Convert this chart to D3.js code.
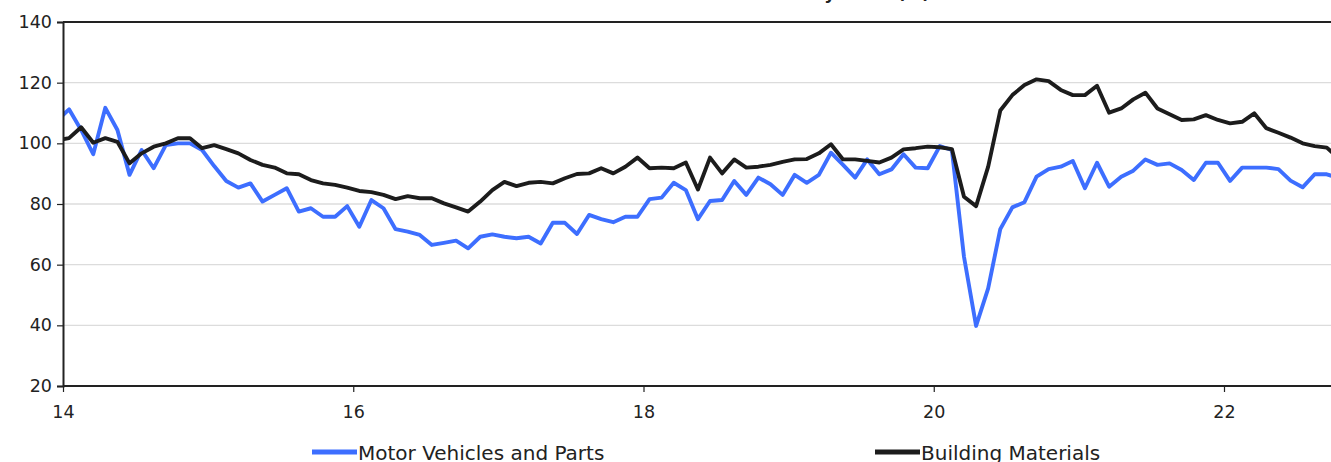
<!DOCTYPE html>
<html>
<head>
<meta charset="utf-8">
<script src="https://cdn.jsdelivr.net/npm/d3@7"></script>
<style>
  html, body { margin: 0; padding: 0; background: #fff; overflow: hidden; }
  svg text { font-family: "DejaVu Sans", sans-serif; fill: #222; }
</style>
</head>
<body>
<div id="chart"></div>
<script>
// monthly series, first value is Dec 2013 (points sit mid-month)
const startYear = 13, startMonth = 12;
const motorVehicles = [107.5,
  111.2,104.4,96.4,111.7,104.4,89.6,97.8,91.8,99.4,100,100,97.8,
  92.5,87.6,85.4,86.8,80.8,83,85.2,77.5,78.6,75.8,75.8,79.3,
  72.5,81.3,78.6,71.7,70.9,69.8,66.5,67.2,67.9,65.4,69.2,70,
  69.2,68.7,69.2,67,73.8,73.8,70.1,76.4,75,74,75.8,75.8,
  81.6,82.1,87,84.6,75,81,81.3,87.6,83,88.7,86.5,83,
  89.6,87,89.6,96.9,92.9,88.7,94.7,89.8,91.4,96.4,92,91.8,
  99.1,97.8,62.6,39.8,52.2,71.7,78.9,80.6,89,91.5,92.3,94.2,
  85.2,93.6,85.7,89,91,94.7,92.9,93.4,91.2,87.9,93.6,93.6,
  87.6,92,92,92,91.5,87.7,85.5,89.8,89.8,88.5];
const buildingMaterials = [101,
  101.7,105.3,100.2,101.7,100.5,93.4,96.7,98.9,100,101.7,101.7,98.4,
  99.4,98.1,96.7,94.5,92.9,92,90.1,89.8,87.9,86.8,86.3,85.4,
  84.3,83.9,83,81.6,82.6,81.9,81.9,80.2,78.9,77.5,80.8,84.6,
  87.3,85.9,87,87.3,86.8,88.5,89.9,90.1,91.8,90.1,92.3,95.3,
  91.8,92,91.8,93.7,84.8,95.3,90.1,94.7,92,92.3,92.9,93.9,
  94.7,94.8,96.7,99.7,94.7,94.7,94.2,93.7,95.3,98,98.4,98.9,
  98.7,98.1,82.4,79.3,92.3,110.8,115.9,119.2,121.1,120.5,117.6,115.9,
  115.9,119,110.1,111.5,114.5,116.7,111.5,109.6,107.7,107.9,109.3,107.7,
  106.6,107.1,109.9,105,103.5,101.9,100,99.1,98.6,95];
const seriesNames = ["Motor Vehicles and Parts", "Building Materials"];
const seriesColors = ["#3d6eff", "#1c1c1c"];
const yTicks = [20, 40, 60, 80, 100, 120, 140];
const xTicks = [14, 16, 18, 20, 22];
const titleText = "Sales to Inventory Ratio (%)";

const W = 1331, H = 462;
const margin = { top: 22, left: 63, bottom: 76 };
const plotRight = W;

const svg = d3.select("#chart").append("svg")
  .attr("width", W).attr("height", H);

const x = d3.scaleLinear().domain([14, 22]).range([margin.left, 1224]);
const y = d3.scaleLinear().domain([20, 140]).range([H - margin.bottom, margin.top]);

const t = i => startYear + (startMonth - 1 + i + 0.5) / 12;

// title, only its lowest part shows at the top edge
svg.append("text")
  .attr("x", 930).attr("y", -1)
  .attr("text-anchor", "end")
  .style("font-weight", "bold").style("font-size", "17px")
  .text(titleText);

// gridlines
svg.append("g")
  .selectAll("line")
  .data(yTicks.filter(d => d > 20 && d < 140))
  .join("line")
  .attr("x1", margin.left).attr("x2", plotRight)
  .attr("y1", d => y(d)).attr("y2", d => y(d))
  .attr("stroke", "#dcdcdc").attr("stroke-width", 1.3);

svg.append("defs").append("clipPath").attr("id", "clip")
  .append("rect")
  .attr("x", margin.left).attr("y", 0)
  .attr("width", plotRight - margin.left).attr("height", H);

const line = d3.line().x((d, i) => x(t(i))).y(d => y(d));

const series = [motorVehicles, buildingMaterials];
svg.append("g").attr("clip-path", "url(#clip)")
  .selectAll("path")
  .data(series)
  .join("path")
  .attr("d", d => line(d))
  .attr("fill", "none")
  .attr("stroke", (d, i) => seriesColors[i])
  .attr("stroke-width", 3.9)
  .attr("stroke-linejoin", "round");

// axes
const yAxis = svg.append("g")
  .attr("transform", "translate(" + margin.left + ",0)")
  .call(d3.axisLeft(y).tickValues(yTicks).tickSize(6).tickPadding(5));
const xAxis = svg.append("g")
  .attr("transform", "translate(0," + y(20) + ")")
  .call(d3.axisBottom(x).tickValues(xTicks).tickSize(6).tickPadding(14).tickSizeOuter(0));

[yAxis, xAxis].forEach(a => {
  a.select(".domain").attr("stroke", "#222").attr("stroke-width", 2);
  a.selectAll(".tick line").attr("stroke", "#222").attr("stroke-width", 1.2);
  a.selectAll("text").style("font-size", "17.5px").attr("fill", "#222");
});
xAxis.select(".domain").attr("d", "M" + margin.left + ",0H" + plotRight);

// top border
svg.append("line")
  .attr("x1", margin.left).attr("x2", plotRight)
  .attr("y1", y(140)).attr("y2", y(140))
  .attr("stroke", "#222").attr("stroke-width", 2);

// legend
const legendX = [312, 875];
const lg = svg.append("g").selectAll("g")
  .data(seriesNames)
  .join("g")
  .attr("transform", (d, i) => "translate(" + legendX[i] + ",452)");
lg.append("line")
  .attr("x1", 0).attr("x2", 45)
  .attr("stroke", (d, i) => seriesColors[i])
  .attr("stroke-width", 5);
lg.append("text")
  .attr("x", 46).attr("y", 8)
  .style("font-size", "20px")
  .text(d => d);
</script>
</body>
</html>
